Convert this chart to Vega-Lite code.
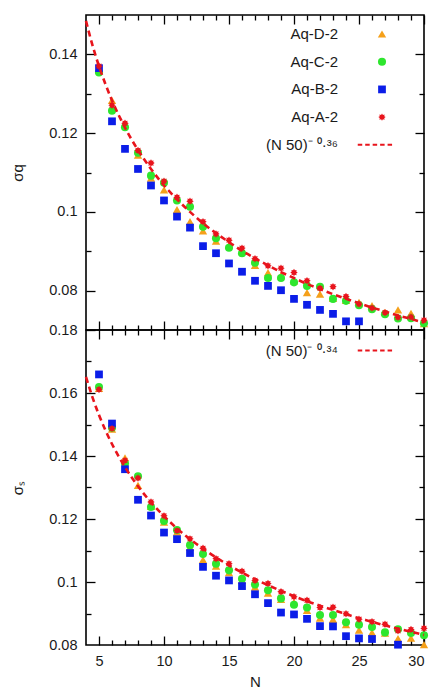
{
  "$schema": "https://vega.github.io/schema/vega-lite/v6.json",
  "padding": {"left": 9, "top": 13, "right": 15, "bottom": 0},
  "background": "white",
  "spacing": 0,
  "bounds": "flush",
  "config": {
    "view": {"stroke": "#000000", "strokeWidth": 1.6},
    "font": "Liberation Sans",
    "axis": {"grid": false, "domain": false, "labelFont": "Liberation Sans", "labelFontSize": 14.5, "labelColor": "#1a1a1a", "titleFont": "Liberation Sans", "titleFontSize": 15, "titleFontWeight": "normal", "titleColor": "#1a1a1a", "tickColor": "#000000", "tickWidth": 1.3},
    "legend": {"title": null, "orient": "none", "legendX": 288.5, "legendY": 11.5, "padding": 0, "rowPadding": 11.7, "labelAlign": "right", "labelOffset": -51.5, "labelFont": "Liberation Sans", "labelFontSize": 15, "labelColor": "#1a1a1a", "labelLimit": 300, "symbolStrokeWidth": 0}
  },
  "datasets": {
    "q_pts": [
      {"N":5,"s":"Aq-D-2","v":0.1360},{"N":6,"s":"Aq-D-2","v":0.1283},{"N":7,"s":"Aq-D-2","v":0.1222},{"N":8,"s":"Aq-D-2","v":0.1144},{"N":9,"s":"Aq-D-2","v":0.1086},{"N":10,"s":"Aq-D-2","v":0.1056},{"N":11,"s":"Aq-D-2","v":0.1006},{"N":12,"s":"Aq-D-2","v":0.0975},{"N":13,"s":"Aq-D-2","v":0.0952},{"N":14,"s":"Aq-D-2","v":0.0926},{"N":15,"s":"Aq-D-2","v":0.0915},{"N":16,"s":"Aq-D-2","v":0.0900},{"N":17,"s":"Aq-D-2","v":0.0864},{"N":18,"s":"Aq-D-2","v":0.0846},{"N":19,"s":"Aq-D-2","v":0.0838},{"N":20,"s":"Aq-D-2","v":0.0825},{"N":21,"s":"Aq-D-2","v":0.0795},{"N":22,"s":"Aq-D-2","v":0.0791},{"N":23,"s":"Aq-D-2","v":0.0780},{"N":24,"s":"Aq-D-2","v":0.0775},{"N":25,"s":"Aq-D-2","v":0.0770},{"N":26,"s":"Aq-D-2","v":0.0762},{"N":27,"s":"Aq-D-2","v":0.0745},{"N":28,"s":"Aq-D-2","v":0.0751},{"N":29,"s":"Aq-D-2","v":0.0742},{"N":30,"s":"Aq-D-2","v":0.0716},
      {"N":5,"s":"Aq-C-2","v":0.1354},{"N":6,"s":"Aq-C-2","v":0.1257},{"N":7,"s":"Aq-C-2","v":0.1215},{"N":8,"s":"Aq-C-2","v":0.1150},{"N":9,"s":"Aq-C-2","v":0.1092},{"N":10,"s":"Aq-C-2","v":0.1074},{"N":11,"s":"Aq-C-2","v":0.1029},{"N":12,"s":"Aq-C-2","v":0.1013},{"N":13,"s":"Aq-C-2","v":0.0962},{"N":14,"s":"Aq-C-2","v":0.0933},{"N":15,"s":"Aq-C-2","v":0.0909},{"N":16,"s":"Aq-C-2","v":0.0895},{"N":17,"s":"Aq-C-2","v":0.0871},{"N":18,"s":"Aq-C-2","v":0.0832},{"N":19,"s":"Aq-C-2","v":0.0832},{"N":20,"s":"Aq-C-2","v":0.0821},{"N":21,"s":"Aq-C-2","v":0.0812},{"N":22,"s":"Aq-C-2","v":0.0810},{"N":23,"s":"Aq-C-2","v":0.0779},{"N":24,"s":"Aq-C-2","v":0.0774},{"N":25,"s":"Aq-C-2","v":0.0763},{"N":26,"s":"Aq-C-2","v":0.0753},{"N":27,"s":"Aq-C-2","v":0.0740},{"N":28,"s":"Aq-C-2","v":0.0729},{"N":29,"s":"Aq-C-2","v":0.0730},{"N":30,"s":"Aq-C-2","v":0.0717},
      {"N":5,"s":"Aq-B-2","v":0.1365},{"N":6,"s":"Aq-B-2","v":0.1230},{"N":7,"s":"Aq-B-2","v":0.1160},{"N":8,"s":"Aq-B-2","v":0.1109},{"N":9,"s":"Aq-B-2","v":0.1067},{"N":10,"s":"Aq-B-2","v":0.1029},{"N":11,"s":"Aq-B-2","v":0.0988},{"N":12,"s":"Aq-B-2","v":0.0960},{"N":13,"s":"Aq-B-2","v":0.0913},{"N":14,"s":"Aq-B-2","v":0.0895},{"N":15,"s":"Aq-B-2","v":0.0869},{"N":16,"s":"Aq-B-2","v":0.0848},{"N":17,"s":"Aq-B-2","v":0.0825},{"N":18,"s":"Aq-B-2","v":0.0812},{"N":19,"s":"Aq-B-2","v":0.0801},{"N":20,"s":"Aq-B-2","v":0.0779},{"N":21,"s":"Aq-B-2","v":0.0764},{"N":22,"s":"Aq-B-2","v":0.0751},{"N":23,"s":"Aq-B-2","v":0.0741},{"N":24,"s":"Aq-B-2","v":0.0722},{"N":25,"s":"Aq-B-2","v":0.0722},
      {"N":5,"s":"Aq-A-2","v":0.1370},{"N":6,"s":"Aq-A-2","v":0.1271},{"N":7,"s":"Aq-A-2","v":0.1225},{"N":8,"s":"Aq-A-2","v":0.1156},{"N":9,"s":"Aq-A-2","v":0.1124},{"N":10,"s":"Aq-A-2","v":0.1078},{"N":11,"s":"Aq-A-2","v":0.1037},{"N":12,"s":"Aq-A-2","v":0.1027},{"N":13,"s":"Aq-A-2","v":0.0975},{"N":14,"s":"Aq-A-2","v":0.0944},{"N":15,"s":"Aq-A-2","v":0.0928},{"N":16,"s":"Aq-A-2","v":0.0908},{"N":17,"s":"Aq-A-2","v":0.0881},{"N":18,"s":"Aq-A-2","v":0.0863},{"N":19,"s":"Aq-A-2","v":0.0857},{"N":20,"s":"Aq-A-2","v":0.0846},{"N":21,"s":"Aq-A-2","v":0.0825},{"N":22,"s":"Aq-A-2","v":0.0806},{"N":23,"s":"Aq-A-2","v":0.0810},{"N":24,"s":"Aq-A-2","v":0.0785},{"N":25,"s":"Aq-A-2","v":0.0766},{"N":26,"s":"Aq-A-2","v":0.0756},{"N":27,"s":"Aq-A-2","v":0.0744},{"N":28,"s":"Aq-A-2","v":0.0732},{"N":29,"s":"Aq-A-2","v":0.0733},{"N":30,"s":"Aq-A-2","v":0.0725}
    ],
    "q_fit": [
      {"N":4,"v":0.1485},{"N":4.5,"v":0.1423},{"N":5,"v":0.1370},{"N":5.5,"v":0.1324},{"N":6,"v":0.1283},{"N":7,"v":0.1214},{"N":8,"v":0.1157},{"N":9,"v":0.1109},{"N":10,"v":0.1067},{"N":11,"v":0.1032},{"N":12,"v":0.1000},{"N":13,"v":0.0971},{"N":14,"v":0.0946},{"N":15,"v":0.0923},{"N":16,"v":0.0901},{"N":17,"v":0.0882},{"N":18,"v":0.0864},{"N":19,"v":0.0847},{"N":20,"v":0.0832},{"N":21,"v":0.0817},{"N":22,"v":0.0804},{"N":23,"v":0.0791},{"N":24,"v":0.0779},{"N":25,"v":0.0768},{"N":26,"v":0.0757},{"N":27,"v":0.0747},{"N":28,"v":0.0737},{"N":29,"v":0.0728},{"N":30,"v":0.0719}
    ],
    "s_pts": [
      {"N":5,"s":"Aq-D-2","v":0.1615},{"N":6,"s":"Aq-D-2","v":0.1485},{"N":7,"s":"Aq-D-2","v":0.1394},{"N":8,"s":"Aq-D-2","v":0.1307},{"N":9,"s":"Aq-D-2","v":0.1240},{"N":10,"s":"Aq-D-2","v":0.1190},{"N":11,"s":"Aq-D-2","v":0.1158},{"N":12,"s":"Aq-D-2","v":0.1110},{"N":13,"s":"Aq-D-2","v":0.1070},{"N":14,"s":"Aq-D-2","v":0.1050},{"N":15,"s":"Aq-D-2","v":0.1030},{"N":16,"s":"Aq-D-2","v":0.1005},{"N":17,"s":"Aq-D-2","v":0.0984},{"N":18,"s":"Aq-D-2","v":0.0965},{"N":19,"s":"Aq-D-2","v":0.0945},{"N":20,"s":"Aq-D-2","v":0.0935},{"N":21,"s":"Aq-D-2","v":0.0910},{"N":22,"s":"Aq-D-2","v":0.0885},{"N":23,"s":"Aq-D-2","v":0.0881},{"N":24,"s":"Aq-D-2","v":0.0865},{"N":25,"s":"Aq-D-2","v":0.0847},{"N":26,"s":"Aq-D-2","v":0.0839},{"N":27,"s":"Aq-D-2","v":0.0838},{"N":28,"s":"Aq-D-2","v":0.0820},{"N":29,"s":"Aq-D-2","v":0.0822},{"N":30,"s":"Aq-D-2","v":0.0801},
      {"N":5,"s":"Aq-C-2","v":0.1619},{"N":6,"s":"Aq-C-2","v":0.1490},{"N":7,"s":"Aq-C-2","v":0.1376},{"N":8,"s":"Aq-C-2","v":0.1336},{"N":9,"s":"Aq-C-2","v":0.1238},{"N":10,"s":"Aq-C-2","v":0.1194},{"N":11,"s":"Aq-C-2","v":0.1165},{"N":12,"s":"Aq-C-2","v":0.1117},{"N":13,"s":"Aq-C-2","v":0.1089},{"N":14,"s":"Aq-C-2","v":0.1058},{"N":15,"s":"Aq-C-2","v":0.1037},{"N":16,"s":"Aq-C-2","v":0.1010},{"N":17,"s":"Aq-C-2","v":0.0992},{"N":18,"s":"Aq-C-2","v":0.0974},{"N":19,"s":"Aq-C-2","v":0.0948},{"N":20,"s":"Aq-C-2","v":0.0928},{"N":21,"s":"Aq-C-2","v":0.0919},{"N":22,"s":"Aq-C-2","v":0.0895},{"N":23,"s":"Aq-C-2","v":0.0895},{"N":24,"s":"Aq-C-2","v":0.0872},{"N":25,"s":"Aq-C-2","v":0.0864},{"N":26,"s":"Aq-C-2","v":0.0857},{"N":27,"s":"Aq-C-2","v":0.0840},{"N":28,"s":"Aq-C-2","v":0.0850},{"N":29,"s":"Aq-C-2","v":0.0838},{"N":30,"s":"Aq-C-2","v":0.0831},
      {"N":5,"s":"Aq-B-2","v":0.1659},{"N":6,"s":"Aq-B-2","v":0.1503},{"N":7,"s":"Aq-B-2","v":0.1358},{"N":8,"s":"Aq-B-2","v":0.1261},{"N":9,"s":"Aq-B-2","v":0.1211},{"N":10,"s":"Aq-B-2","v":0.1157},{"N":11,"s":"Aq-B-2","v":0.1136},{"N":12,"s":"Aq-B-2","v":0.1092},{"N":13,"s":"Aq-B-2","v":0.1048},{"N":14,"s":"Aq-B-2","v":0.1020},{"N":15,"s":"Aq-B-2","v":0.1005},{"N":16,"s":"Aq-B-2","v":0.0987},{"N":17,"s":"Aq-B-2","v":0.0961},{"N":18,"s":"Aq-B-2","v":0.0933},{"N":19,"s":"Aq-B-2","v":0.0903},{"N":20,"s":"Aq-B-2","v":0.0897},{"N":21,"s":"Aq-B-2","v":0.0883},{"N":22,"s":"Aq-B-2","v":0.0860},{"N":23,"s":"Aq-B-2","v":0.0859},{"N":24,"s":"Aq-B-2","v":0.0828},{"N":25,"s":"Aq-B-2","v":0.0821},{"N":26,"s":"Aq-B-2","v":0.0819},{"N":28,"s":"Aq-B-2","v":0.0801},
      {"N":5,"s":"Aq-A-2","v":0.1611},{"N":6,"s":"Aq-A-2","v":0.1487},{"N":7,"s":"Aq-A-2","v":0.1386},{"N":8,"s":"Aq-A-2","v":0.1330},{"N":9,"s":"Aq-A-2","v":0.1254},{"N":10,"s":"Aq-A-2","v":0.1210},{"N":11,"s":"Aq-A-2","v":0.1163},{"N":12,"s":"Aq-A-2","v":0.1137},{"N":13,"s":"Aq-A-2","v":0.1107},{"N":14,"s":"Aq-A-2","v":0.1074},{"N":15,"s":"Aq-A-2","v":0.1058},{"N":16,"s":"Aq-A-2","v":0.1034},{"N":17,"s":"Aq-A-2","v":0.1005},{"N":18,"s":"Aq-A-2","v":0.0995},{"N":19,"s":"Aq-A-2","v":0.0969},{"N":20,"s":"Aq-A-2","v":0.0953},{"N":21,"s":"Aq-A-2","v":0.0942},{"N":22,"s":"Aq-A-2","v":0.0919},{"N":23,"s":"Aq-A-2","v":0.0920},{"N":24,"s":"Aq-A-2","v":0.0899},{"N":25,"s":"Aq-A-2","v":0.0882},{"N":26,"s":"Aq-A-2","v":0.0874},{"N":27,"s":"Aq-A-2","v":0.0866},{"N":28,"s":"Aq-A-2","v":0.0845},{"N":29,"s":"Aq-A-2","v":0.0849},{"N":30,"s":"Aq-A-2","v":0.0853}
    ],
    "s_fit": [
      {"N":4,"v":0.1651},{"N":4.5,"v":0.1586},{"N":5,"v":0.1530},{"N":5.5,"v":0.1481},{"N":6,"v":0.1438},{"N":7,"v":0.1365},{"N":8,"v":0.1304},{"N":9,"v":0.1253},{"N":10,"v":0.1209},{"N":11,"v":0.1170},{"N":12,"v":0.1136},{"N":13,"v":0.1106},{"N":14,"v":0.1078},{"N":15,"v":0.1053},{"N":16,"v":0.1030},{"N":17,"v":0.1009},{"N":18,"v":0.0990},{"N":19,"v":0.0972},{"N":20,"v":0.0955},{"N":21,"v":0.0939},{"N":22,"v":0.0925},{"N":23,"v":0.0911},{"N":24,"v":0.0898},{"N":25,"v":0.0885},{"N":26,"v":0.0874},{"N":27,"v":0.0862},{"N":28,"v":0.0852},{"N":29,"v":0.0842},{"N":30,"v":0.0832}
    ]
  },
  "vconcat": [
    {
      "width": 338, "height": 315,
      "resolve": {"axis": {"x": "independent", "y": "independent"}},
      "layer": [
        {
          "data": {"name": "q_pts"},
          "mark": {"type": "point", "filled": true, "opacity": 1, "strokeWidth": 0},
          "encoding": {
            "x": {"field": "N", "type": "quantitative", "scale": {"domain": [4, 30], "nice": false, "zero": false}, "axis": null},
            "y": {"field": "v", "type": "quantitative", "scale": {"domain": [0.07, 0.15], "nice": false, "zero": false}, "axis": {"orient": "left", "values": [0.08, 0.1, 0.12, 0.14], "ticks": false, "labelPadding": 9, "format": "~g", "title": "σq", "titlePadding": 23}},
            "color": {"field": "s", "type": "nominal", "scale": {"domain": ["Aq-D-2", "Aq-C-2", "Aq-B-2", "Aq-A-2", "(N 50)⁻ ⁰·³⁶"], "range": ["#f5a01a", "#2ee62e", "#0b1de8", "#e8141c", "#e8141c"]}, "legend": {}},
            "shape": {"field": "s", "type": "nominal", "scale": {"domain": ["Aq-D-2", "Aq-C-2", "Aq-B-2", "Aq-A-2", "(N 50)⁻ ⁰·³⁶"], "range": ["triangle-up", "circle", "square", "M1,0L0.6,0.25L0.707,0.707L0.25,0.6L0,1L-0.25,0.6L-0.707,0.707L-0.6,0.25L-1,0L-0.6,-0.25L-0.707,-0.707L-0.25,-0.6L0,-1L0.25,-0.6L0.707,-0.707L0.6,-0.25Z", "M-6.86,-0.274H-5.59V0.274H-6.86Z M-4.75,-0.274H-3.48V0.274H-4.75Z M-2.64,-0.274H-1.37V0.274H-2.64Z M-0.53,-0.274H0.74V0.274H-0.53Z M1.58,-0.274H2.85V0.274H1.58Z"]}, "legend": {}},
            "size": {"field": "s", "type": "nominal", "scale": {"domain": ["Aq-D-2", "Aq-C-2", "Aq-B-2", "Aq-A-2", "(N 50)⁻ ⁰·³⁶"], "range": [70, 50, 52, 85, 90]}, "legend": {}}
          }
        },
        {
          "data": {"name": "q_fit"},
          "mark": {"type": "line", "color": "#e8141c", "strokeDash": [6, 4], "strokeWidth": 2.6, "interpolate": "monotone"},
          "encoding": {
            "x": {"field": "N", "type": "quantitative", "axis": {"orient": "bottom", "values": [5, 10, 15, 20, 25, 30], "tickSize": -9, "labels": false, "title": null}},
            "y": {"field": "v", "type": "quantitative", "axis": {"orient": "left", "values": [0.08, 0.1, 0.12, 0.14], "tickSize": -9, "labels": false, "title": null}}
          }
        },
        {
          "data": {"name": "q_fit"},
          "mark": {"type": "point", "opacity": 0},
          "encoding": {
            "x": {"field": "N", "type": "quantitative", "axis": {"orient": "bottom", "values": [6, 7, 8, 9, 11, 12, 13, 14, 16, 17, 18, 19, 21, 22, 23, 24, 26, 27, 28, 29], "tickSize": -5, "labels": false, "title": null}},
            "y": {"field": "v", "type": "quantitative", "axis": {"orient": "left", "values": [0.09, 0.11, 0.13], "tickSize": -5, "labels": false, "title": null}}
          }
        },
        {
          "data": {"name": "q_fit"},
          "mark": {"type": "point", "opacity": 0},
          "encoding": {
            "x": {"field": "N", "type": "quantitative", "axis": {"orient": "top", "values": [5, 10, 15, 20, 25, 30], "tickSize": -9, "labels": false, "title": null}},
            "y": {"field": "v", "type": "quantitative", "axis": {"orient": "right", "values": [0.08, 0.1, 0.12, 0.14], "tickSize": -9, "labels": false, "title": null}}
          }
        },
        {
          "data": {"name": "q_fit"},
          "mark": {"type": "point", "opacity": 0},
          "encoding": {
            "x": {"field": "N", "type": "quantitative", "axis": {"orient": "top", "values": [6, 7, 8, 9, 11, 12, 13, 14, 16, 17, 18, 19, 21, 22, 23, 24, 26, 27, 28, 29], "tickSize": -5, "labels": false, "title": null}},
            "y": {"field": "v", "type": "quantitative", "axis": {"orient": "right", "values": [0.09, 0.11, 0.13], "tickSize": -5, "labels": false, "title": null}}
          }
        }
      ]
    },
    {
      "width": 338, "height": 315,
      "resolve": {"axis": {"x": "independent", "y": "independent"}},
      "layer": [
        {
          "data": {"name": "s_pts"},
          "mark": {"type": "point", "filled": true, "opacity": 1, "strokeWidth": 0},
          "encoding": {
            "x": {"field": "N", "type": "quantitative", "scale": {"domain": [4, 30], "nice": false, "zero": false}, "axis": {"orient": "bottom", "values": [5, 10, 15, 20, 25, 30], "ticks": false, "labelPadding": 9, "title": "N", "titlePadding": 7}},
            "y": {"field": "v", "type": "quantitative", "scale": {"domain": [0.08, 0.18], "nice": false, "zero": false}, "axis": {"orient": "left", "values": [0.08, 0.1, 0.12, 0.14, 0.16, 0.18], "ticks": false, "labelPadding": 9, "format": "~g", "title": "σₛ", "titlePadding": 23}},
            "color": {"field": "s", "type": "nominal", "scale": {"domain": ["Aq-D-2", "Aq-C-2", "Aq-B-2", "Aq-A-2", "(N 50)⁻ ⁰·³⁴"], "range": ["#f5a01a", "#2ee62e", "#0b1de8", "#e8141c", "#e8141c"]}, "legend": {"values": ["(N 50)⁻ ⁰·³⁴"], "legendY": 13}},
            "shape": {"field": "s", "type": "nominal", "scale": {"domain": ["Aq-D-2", "Aq-C-2", "Aq-B-2", "Aq-A-2", "(N 50)⁻ ⁰·³⁴"], "range": ["triangle-up", "circle", "square", "M1,0L0.6,0.25L0.707,0.707L0.25,0.6L0,1L-0.25,0.6L-0.707,0.707L-0.6,0.25L-1,0L-0.6,-0.25L-0.707,-0.707L-0.25,-0.6L0,-1L0.25,-0.6L0.707,-0.707L0.6,-0.25Z", "M-6.86,-0.274H-5.59V0.274H-6.86Z M-4.75,-0.274H-3.48V0.274H-4.75Z M-2.64,-0.274H-1.37V0.274H-2.64Z M-0.53,-0.274H0.74V0.274H-0.53Z M1.58,-0.274H2.85V0.274H1.58Z"]}, "legend": {"values": ["(N 50)⁻ ⁰·³⁴"], "legendY": 13}},
            "size": {"field": "s", "type": "nominal", "scale": {"domain": ["Aq-D-2", "Aq-C-2", "Aq-B-2", "Aq-A-2", "(N 50)⁻ ⁰·³⁴"], "range": [70, 50, 52, 85, 90]}, "legend": {"values": ["(N 50)⁻ ⁰·³⁴"], "legendY": 13}}
          }
        },
        {
          "data": {"name": "s_fit"},
          "mark": {"type": "line", "color": "#e8141c", "strokeDash": [6, 4], "strokeWidth": 2.6, "interpolate": "monotone"},
          "encoding": {
            "x": {"field": "N", "type": "quantitative", "axis": {"orient": "bottom", "values": [5, 10, 15, 20, 25, 30], "tickSize": -9, "labels": false, "title": null}},
            "y": {"field": "v", "type": "quantitative", "axis": {"orient": "left", "values": [0.1, 0.12, 0.14, 0.16, 0.18], "tickSize": -9, "labels": false, "title": null}}
          }
        },
        {
          "data": {"name": "s_fit"},
          "mark": {"type": "point", "opacity": 0},
          "encoding": {
            "x": {"field": "N", "type": "quantitative", "axis": {"orient": "bottom", "values": [6, 7, 8, 9, 11, 12, 13, 14, 16, 17, 18, 19, 21, 22, 23, 24, 26, 27, 28, 29], "tickSize": -5, "labels": false, "title": null}},
            "y": {"field": "v", "type": "quantitative", "axis": {"orient": "left", "values": [0.09, 0.11, 0.13, 0.15, 0.17], "tickSize": -5, "labels": false, "title": null}}
          }
        },
        {
          "data": {"name": "s_fit"},
          "mark": {"type": "point", "opacity": 0},
          "encoding": {
            "x": {"field": "N", "type": "quantitative", "axis": {"orient": "top", "values": [5, 10, 15, 20, 25, 30], "tickSize": -9, "labels": false, "title": null}},
            "y": {"field": "v", "type": "quantitative", "axis": {"orient": "right", "values": [0.1, 0.12, 0.14, 0.16], "tickSize": -9, "labels": false, "title": null}}
          }
        },
        {
          "data": {"name": "s_fit"},
          "mark": {"type": "point", "opacity": 0},
          "encoding": {
            "x": {"field": "N", "type": "quantitative", "axis": {"orient": "top", "values": [6, 7, 8, 9, 11, 12, 13, 14, 16, 17, 18, 19, 21, 22, 23, 24, 26, 27, 28, 29], "tickSize": -5, "labels": false, "title": null}},
            "y": {"field": "v", "type": "quantitative", "axis": {"orient": "right", "values": [0.09, 0.11, 0.13, 0.15, 0.17], "tickSize": -5, "labels": false, "title": null}}
          }
        }
      ]
    }
  ],
  "resolve": {"scale": {"color": "independent", "shape": "independent", "size": "independent", "y": "independent", "x": "independent"}, "legend": {"color": "independent", "shape": "independent", "size": "independent"}}
}
